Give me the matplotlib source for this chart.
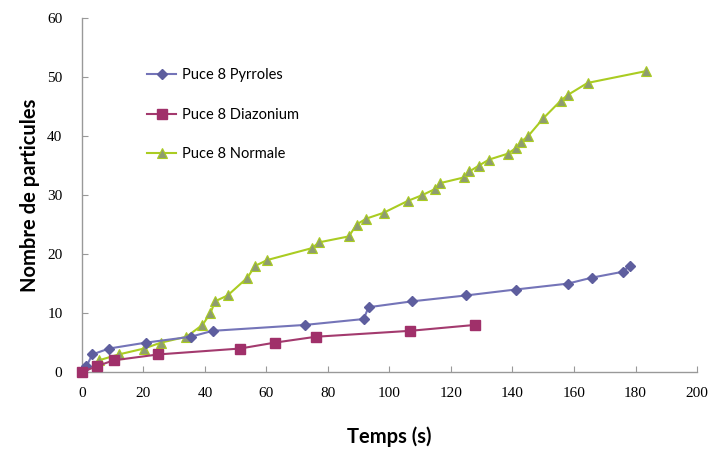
import matplotlib
matplotlib.use('Agg')
import matplotlib.pyplot as plt

# Puce 8 Pyrroles
t_pyrroles = [0, 1.5, 3.4, 8.8, 20.8, 35.4, 42.5, 72.5, 91.6, 93.2, 107.4, 125, 141, 158, 165.7, 175.8, 178.2]
n_pyrroles = [0, 1, 3, 4, 5, 6, 7, 8, 9, 11, 12, 13, 14, 15, 16, 17, 18]

# Puce 8 Diazonium
t_diazonium = [0, 4.8, 10.3, 24.8, 51.4, 62.7, 76.1, 106.7, 127.8]
n_diazonium = [0, 1, 2, 3, 4, 5, 6, 7, 8]

# Puce 8 Normale
t_normale = [5.5, 12, 20.2, 25.7, 34, 39.2, 41.8, 43.3, 47.4, 53.8, 56.3, 60.3, 74.7, 77.2,
             86.8, 89.3, 92.4, 98.1, 105.9, 110.7, 114.7, 116.3, 124.3, 126, 129.1, 132.3,
             138.4, 141.2, 142.7, 145.1, 150, 155.7, 158.1, 164.4, 183.4]
n_normale = [2, 3, 4, 5, 6, 8, 10, 12, 13, 16, 18, 19, 21, 22,
             23, 25, 26, 27, 29, 30, 31, 32, 33, 34, 35, 36,
             37, 38, 39, 40, 43, 46, 47, 49, 51]

fig = plt.figure(figsize=(7.12, 4.5), dpi=100)
ax = fig.add_axes([0.115, 0.173, 0.864, 0.787])

ax.plot(t_pyrroles, n_pyrroles, color='#7474B8', lw=1.5, marker='D', ms=5.5,
        mfc='#5E5E9E', mec='#5E5E9E', label='Puce 8 Pyrroles', clip_on=False, zorder=3)
ax.plot(t_diazonium, n_diazonium, color='#A33A6E', lw=1.5, marker='s', ms=7,
        mfc='#A0306A', mec='#A0306A', label='Puce 8 Diazonium', clip_on=False, zorder=4)
ax.plot(t_normale, n_normale, color='#AACC22', lw=1.5, marker='^', ms=7.5,
        mfc='#8E9C70', mec='#AACC22', mew=0.8, label='Puce 8 Normale', clip_on=False, zorder=2)

ax.set_xlim(0, 200)
ax.set_ylim(0, 60)
ax.set_xticks(range(0, 201, 20))
ax.set_yticks(range(0, 61, 10))

for s in ['top', 'right']:
    ax.spines[s].set_visible(False)
for s in ['left', 'bottom']:
    ax.spines[s].set_color('#999999')
    ax.spines[s].set_linewidth(1)

ax.tick_params(direction='in', length=4, color='#999999', labelsize=11)
for lab in ax.get_xticklabels() + ax.get_yticklabels():
    lab.set_fontfamily('Liberation Serif')
ax.tick_params(axis='y', pad=14)
ax.tick_params(axis='x', pad=11)

ax.set_xlabel('Temps (s)', fontfamily='Lato', fontweight='bold', fontsize=14.5, labelpad=19)
ax.set_ylabel('Nombre de particules', fontfamily='Lato', fontweight='bold', fontsize=14.5, labelpad=5)

leg = ax.legend(loc='upper left', bbox_to_anchor=(0.085, 0.895), frameon=False,
                labelspacing=1.75, handlelength=2.0, handletextpad=0.4,
                prop={'family': 'Lato', 'size': 10.5})

fig.savefig('out.png', dpi=100)
